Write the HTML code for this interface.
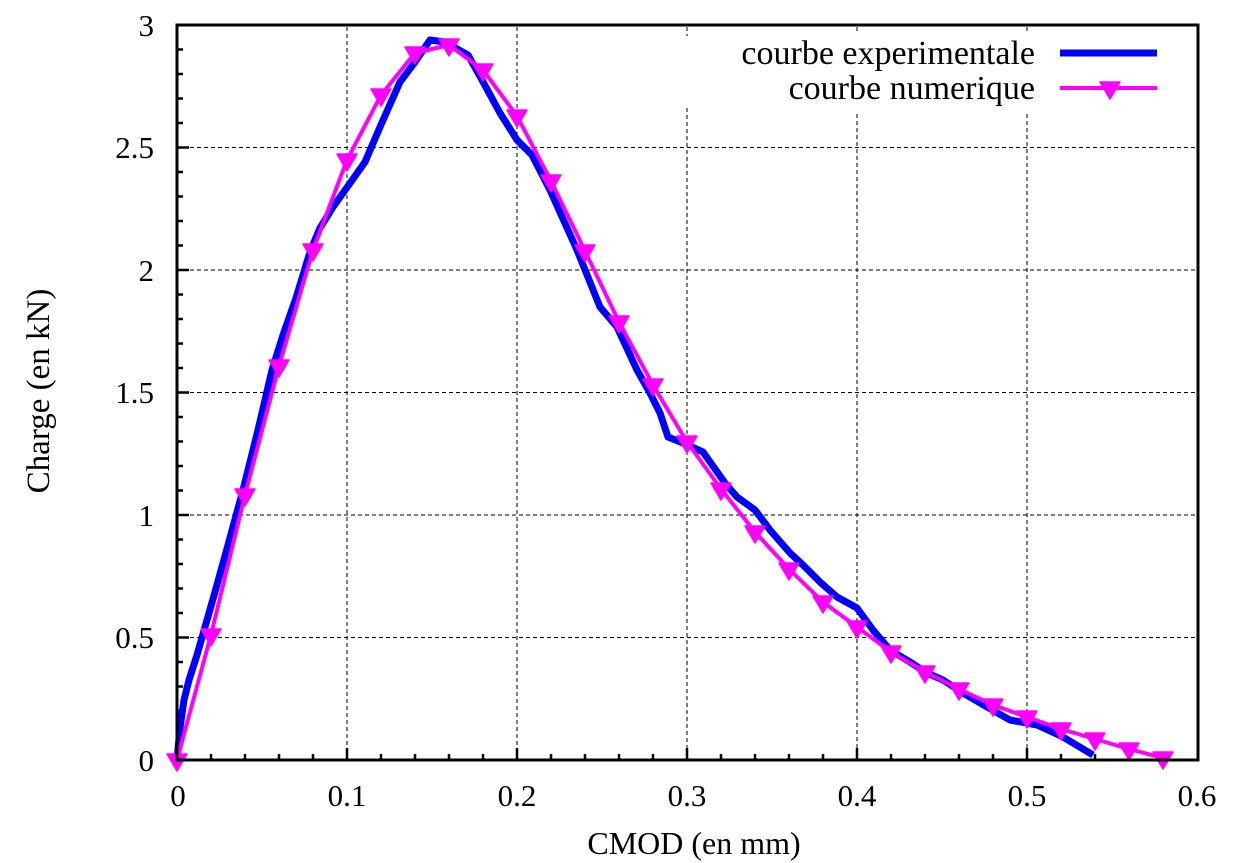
<!DOCTYPE html>
<html>
<head>
<meta charset="utf-8">
<style>
  html, body { margin: 0; padding: 0; background: #ffffff; }
  svg { display: block; }
  svg text { font-family: "Liberation Serif", "Noto Serif CJK SC", "DejaVu Serif", serif; fill: #000; }
</style>
</head>
<body>
<svg width="1236" height="863" viewBox="0 0 1236 863" xmlns="http://www.w3.org/2000/svg">
  <rect x="0" y="0" width="1236" height="863" fill="#ffffff"/>

  <path fill="none" stroke="#000" stroke-width="1" stroke-dasharray="4 3"
    d="M347 27V748 M517 27V748 M687 27V36 M687 108V748 M857 27V34 M857 114V748 M1027 27V34 M1027 114V748 M190 637.5H1196 M190 515H1196 M190 392.5H1196 M190 270H1196 M190 147.5H1196"/>

  <path fill="none" stroke="#000" stroke-width="2.5"
    d="M177 735.5h6 M177 711h6 M177 686.5h6 M177 662h6 M177 613h6 M177 588.5h6 M177 564h6 M177 539.5h6 M177 490.5h6 M177 466h6 M177 441.5h6 M177 417h6 M177 368h6 M177 343.5h6 M177 319h6 M177 294.5h6 M177 245.5h6 M177 221h6 M177 196.5h6 M177 172h6 M177 123h6 M177 98.5h6 M177 74h6 M177 49.5h6
       M177 637.5h12 M177 515h12 M177 392.5h12 M177 270h12 M177 147.5h12
       M211 760v-6 M245 760v-6 M279 760v-6 M313 760v-6 M381 760v-6 M415 760v-6 M449 760v-6 M483 760v-6 M551 760v-6 M585 760v-6 M619 760v-6 M653 760v-6 M721 760v-6 M755 760v-6 M789 760v-6 M823 760v-6 M891 760v-6 M925 760v-6 M959 760v-6 M993 760v-6 M1061 760v-6 M1095 760v-6 M1129 760v-6 M1163 760v-6
       M347 760v-12 M517 760v-12 M687 760v-12 M857 760v-12 M1027 760v-12"/>

  <polyline fill="none" stroke="#0000ff" stroke-width="7" stroke-linejoin="round"
    points="177,760 180,728 184,700 189,680 197,655 205,627 215,592 228,545 243,490 258,430 272,370 283,335 296,298 310,252 320,228 333,207 348,186 365,162 380,127 400,82 415,62 430,40 445,42 468,55 482,80 500,113 517,140 532,155 550,190 577,250 600,307 617,327 637,370 650,393 660,413 668,437 683,443 703,452 725,483 737,497 755,510 770,530 790,553 803,565 820,582 837,597 857,608 873,630 890,650 910,662 927,673 943,680 963,693 987,707 1010,720 1037,725 1063,737 1093,755"/>

  <polyline fill="none" stroke="#ff00ff" stroke-width="4" stroke-linejoin="round"
    points="177,760 211,635 245,495 279,366 313,250 347,160 381,95 415,53 449,45 483,70 517,116 551,181 585,251 619,322 653,385 687,442 721,489 755,532 789,569 823,602 857,627 891,652 925,672 959,689 993,705 1027,717 1061,729 1095,739 1129,749 1163,758"/>

  <g fill="#ff00ff" stroke="#ff00ff" stroke-width="1.5" stroke-linejoin="round">
    <polygon points="167,754 187,754 177,771"/>
    <polygon points="201,629 221,629 211,646"/>
    <polygon points="235,489 255,489 245,506"/>
    <polygon points="269,360 289,360 279,377"/>
    <polygon points="303,244 323,244 313,261"/>
    <polygon points="337,154 357,154 347,171"/>
    <polygon points="371,89 391,89 381,106"/>
    <polygon points="405,47 425,47 415,64"/>
    <polygon points="439,39 459,39 449,56"/>
    <polygon points="473,64 493,64 483,81"/>
    <polygon points="507,110 527,110 517,127"/>
    <polygon points="541,175 561,175 551,192"/>
    <polygon points="575,245 595,245 585,262"/>
    <polygon points="609,316 629,316 619,333"/>
    <polygon points="643,379 663,379 653,396"/>
    <polygon points="677,436 697,436 687,453"/>
    <polygon points="711,483 731,483 721,500"/>
    <polygon points="745,526 765,526 755,543"/>
    <polygon points="779,563 799,563 789,580"/>
    <polygon points="813,596 833,596 823,613"/>
    <polygon points="847,621 867,621 857,638"/>
    <polygon points="881,646 901,646 891,663"/>
    <polygon points="915,666 935,666 925,683"/>
    <polygon points="949,683 969,683 959,700"/>
    <polygon points="983,699 1003,699 993,716"/>
    <polygon points="1017,711 1037,711 1027,728"/>
    <polygon points="1051,723 1071,723 1061,740"/>
    <polygon points="1085,733 1105,733 1095,750"/>
    <polygon points="1119,743 1139,743 1129,760"/>
    <polygon points="1153,752 1173,752 1163,769"/>
  </g>

  <rect x="177" y="25" width="1021" height="735" fill="none" stroke="#000" stroke-width="3"/>

  <g font-size="31" text-anchor="end">
    <text x="154" y="771">0</text>
    <text x="154" y="648">0.5</text>
    <text x="154" y="526">1</text>
    <text x="154" y="403">1.5</text>
    <text x="154" y="281">2</text>
    <text x="154" y="158">2.5</text>
    <text x="154" y="36">3</text>
  </g>

  <g font-size="31" text-anchor="middle">
    <text x="178" y="806">0</text>
    <text x="347" y="806">0.1</text>
    <text x="517" y="806">0.2</text>
    <text x="687" y="806">0.3</text>
    <text x="857" y="806">0.4</text>
    <text x="1027" y="806">0.5</text>
    <text x="1197" y="806">0.6</text>
  </g>

  <text x="694" y="854" font-size="32" text-anchor="middle">CMOD (en mm)</text>
  <text x="0" y="0" font-size="33" text-anchor="middle" transform="translate(49,391) rotate(-90)">Charge (en kN)</text>

  <g font-size="34" text-anchor="end">
    <text x="1035" y="64">courbe experimentale</text>
    <text x="1035" y="99">courbe numerique</text>
  </g>
  <line x1="1060" y1="53" x2="1157" y2="53" stroke="#0000ff" stroke-width="7"/>
  <line x1="1060" y1="88" x2="1157" y2="88" stroke="#ff00ff" stroke-width="4"/>
  <polygon points="1100,82 1120,82 1110,99" fill="#ff00ff" stroke="#ff00ff" stroke-width="1.5" stroke-linejoin="round"/>
</svg>
</body>
</html>
